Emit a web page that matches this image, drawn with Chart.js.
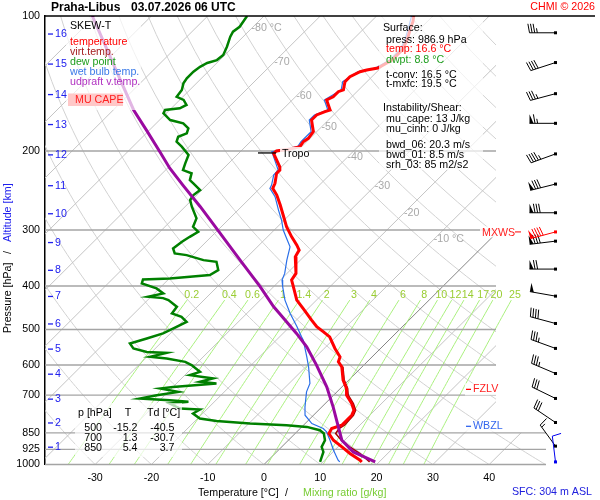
<!DOCTYPE html>
<html>
<head>
<meta charset="utf-8">
<title>Praha-Libus skew-T</title>
<script src="https://cdn.jsdelivr.net/npm/chart.js@4.4.0/dist/chart.umd.min.js"></script>
<style>
  html, body { margin: 0; padding: 0; background: #fff; }
  #wrap { width: 600px; height: 500px; position: relative; }
</style>
</head>
<body>
<div id="wrap"><canvas id="skewT"></canvas></div>
<script>
// sounding: pressure [hPa] / temperature [degC]

var station = "Praha-Libus";
var runTime = "03.07.2026 06 UTC";

var xTicks = [-30, -20, -10, 0, 10, 20, 30, 40];
var pTicks = [100, 200, 300, 400, 500, 600, 700, 850, 925, 1000];

var tempP = [100, 103.1, 106.4, 113.1, 119.0, 125.4, 130.6, 132.0, 133.1, 136.6, 140.1, 146.2, 147.5, 151.4, 153.9, 157.9, 162.0, 163.4, 166.2, 170.6, 181.1, 187.4, 190.7, 195.6, 198.0, 200.0, 202.4, 206.0, 216.9, 220.6, 224.3, 236.1, 242.3, 250.7, 263.9, 277.8, 295.1, 310.7, 324.2, 332.6, 344.2, 375.0, 387.9, 401.4, 430.0, 448.8, 476.5, 493.1, 506.0, 519.3, 551.1, 575.4, 590.3, 605.7, 648.5, 676.9, 700.6, 731.2, 756.8, 776.5, 796.7, 817.6, 831.3, 852.8, 882.9, 913.6, 945.1, 978.2, 986.9];
var tempT = [-53.4, -52.5, -51.8, -50.3, -49.4, -49.4, -50.5, -52.1, -53.0, -53.9, -53.9, -52.7, -53.3, -53.3, -53.9, -52.7, -51.5, -52.1, -53.0, -53.0, -50.6, -50.3, -50.6, -50.3, -51.6, -53.7, -53.8, -52.9, -50.3, -49.7, -49.7, -48.2, -47.7, -45.8, -43.4, -41.1, -38.4, -35.7, -33.3, -32.0, -31.5, -28.4, -28.0, -26.5, -23.5, -20.9, -17.3, -15.2, -13.1, -11.1, -8.1, -5.7, -5.1, -3.6, -1.0, 1.1, 2.3, 4.7, 6.3, 6.8, 6.8, 6.8, 5.6, 6.0, 8.0, 10.7, 13.3, 16.3, 16.9];

var virtP = [605.7, 648.5, 676.9, 700.6, 731.2, 756.8, 776.5, 796.7, 817.6, 831.3, 852.8, 882.9, 913.6, 945.1, 986.9];
var virtT = [-3.4, -0.8, 1.3, 2.6, 5.0, 6.6, 7.1, 7.2, 7.3, 6.9, 7.2, 9.4, 12.1, 15.1, 18.3];

var dwP = [100, 105.7, 108.4, 111.2, 117.1, 122.1, 125.4, 127.3, 129.8, 133.1, 137.7, 141.3, 146.2, 151.4, 153.9, 157.9, 160.6, 162.0, 164.8, 170.6, 173.5, 178.0, 182.6, 185.9, 190.7, 195.6, 204.2, 213.1, 220.6, 224.3, 232.2, 236.1, 244.4, 250.7, 257.2, 266.2, 282.6, 295.1, 302.7, 310.7, 318.7, 329.7, 338.4, 341.3, 350.2, 353.2, 368.6, 378.2, 384.7, 386.7, 394.7, 404.9, 415.5, 422.8, 425.6, 430.0, 445.1, 460.4, 468.5, 480.7, 493.1, 510.3, 523.6, 537.2, 551.1, 561.0, 563.9, 575.4, 580.2, 590.3, 600.4, 621.4, 632.0, 642.8, 654.1, 659.6, 671.4, 676.9, 688.8, 700.6, 712.4, 718.6, 724.9, 731.2, 750.2, 754.1, 769.7, 789.7, 799.5, 810.5, 817.6, 824.5, 838.6, 852.8, 882.9, 913.6, 937.3, 961.7, 986.9];
var dwT = [-83.0, -82.4, -82.7, -82.3, -81.1, -80.3, -80.5, -81.7, -82.3, -82.6, -82.6, -82.3, -81.4, -81.1, -79.3, -77.9, -78.5, -80.8, -80.5, -78.1, -75.2, -73.4, -72.8, -73.7, -73.1, -71.3, -68.6, -67.7, -66.9, -64.8, -63.9, -62.7, -60.3, -60.6, -60.3, -58.8, -55.9, -55.0, -53.2, -53.8, -54.3, -54.7, -53.5, -51.1, -47.2, -44.6, -42.8, -43.4, -49.9, -54.5, -54.0, -50.5, -48.4, -50.5, -47.6, -46.3, -43.6, -43.3, -41.0, -39.2, -40.1, -41.3, -43.3, -45.4, -43.9, -40.9, -37.2, -39.4, -36.2, -32.3, -30.6, -27.9, -29.1, -24.4, -26.1, -22.9, -30.0, -32.0, -28.2, -31.4, -33.8, -28.2, -24.6, -27.6, -24.9, -21.2, -21.7, -19.6, -16.2, -9.8, -3.0, 0.9, 3.8, 5.1, 6.5, 7.1, 8.3, 8.9, 9.5];

var wbP = [100, 106.4, 113.1, 119.0, 125.4, 130.6, 133.1, 140.1, 146.2, 153.9, 162.0, 166.2, 170.6, 181.1, 190.7, 195.6, 200.7, 213.1, 220.6, 226.3, 238.2, 242.3, 252.9, 270.9, 285.0, 300.1, 313.3, 327.1, 338.4, 350.2, 375.0, 387.9, 401.4, 430.0, 460.4, 493.1, 519.3, 528.2, 575.4, 605.7, 659.6, 688.8, 743.9, 776.5, 810.5, 831.3, 845.9, 882.9, 929.2, 978.2, 986.9];
var wbT = [-53.8, -52.2, -50.7, -49.8, -49.8, -50.9, -53.4, -54.3, -53.1, -54.3, -51.9, -53.4, -53.4, -51.0, -51.0, -50.7, -54.4, -51.6, -50.0, -49.9, -48.5, -48.2, -45.8, -42.8, -40.5, -38.4, -36.3, -34.2, -33.3, -32.4, -30.4, -29.7, -28.4, -25.6, -22.3, -18.7, -16.1, -15.2, -11.6, -9.5, -6.3, -5.4, -3.0, -1.5, 1.2, 4.1, 5.3, 7.4, 9.8, 12.4, 13.0];

var parP = [100, 104.7, 125.4, 162.0, 180.4, 201.1, 218.4, 238.8, 266.2, 305.3, 350.2, 401.4, 445.1, 462.0, 510.3, 546.6, 600.4, 671.4, 743.9, 824.5, 882.9, 937.3, 986.9];
var parT = [-110.5, -108.2, -99.2, -86.4, -80.3, -74.2, -69.6, -64.1, -57.3, -49.0, -40.7, -32.4, -26.4, -24.0, -17.6, -13.4, -8.4, -2.7, 2.0, 6.5, 9.5, 13.6, 19.3];

// wind barbs (direction deg, speed kt); last level is the surface
var windP = [109, 127, 149, 173.5, 203, 237, 274.6, 317.7, 366.7, 421.3, 484.8, 551, 626.8, 712.4, 806, 910, 986.9];
var windDir = [270, 252, 255, 270, 250, 256, 270, 263, 270, 280, 285, 290, 293, 296, 304, 324, 353];
var windSpd = [35, 40, 35, 65, 45, 80, 80, 80, 70, 50, 40, 35, 35, 30, 30, 15, 10];
var mxwsP = 303, mxwsDir = 255, mxwsSpd = 90;

// altitude marks [km] and where they sit [hPa]
var altKm = [1, 2, 3, 4, 5, 6, 7, 8, 9, 10, 11, 12, 13, 14, 15, 16];
var altP = [915, 808, 715, 629, 553, 486, 422, 369, 320, 276, 239, 204, 174.6, 149.7, 128, 109.7];

// special levels
var tropoP = 202, fzlvP = 680, wbzlP = 822;

// mixing ratio lines [g/kg] and isotherm labels
var mixW = [0.2, 0.4, 0.6, 1, 1.4, 2, 3, 4, 6, 8, 10, 12, 14, 17, 20, 25];
var isoLabelT = [-80, -70, -60, -50, -40, -30, -20, -10];
var isoLabelP = [106.6, 126.6, 150.8, 176.8, 206.3, 239.4, 275.0, 314.9];

// table and surface info
var tabP = [500, 700, 850], tabT = [-15.2, 1.3, 5.4], tabTd = [-40.5, -30.7, 3.7];
var sfcP = 986.9, sfcT = 16.6, sfcTd = 8.8, tConv = 16.5, tMxfc = 19.5;
var muCape = 13, muCinh = 0, bwd06 = 20.3, bwd01 = 8.5, srh03 = 85, sfcElev = 304;

var SKEW = 80;
function skewX(t, p) { return t + SKEW * Math.log10(1000 / p); }

var FONT = "'Liberation Sans', Arial, sans-serif";
var F11 = "10.67px " + FONT;
Chart.defaults.font.family = FONT;
Chart.defaults.font.size = 10.67;

function txt(ctx, s, x, y, color, align, font) {
    ctx.fillStyle = color;
    ctx.textAlign = align || 'left';
    ctx.textBaseline = 'middle';
    ctx.font = font || F11;
    ctx.fillText(s, x, y);
}

function dewFromMix(w, p) {
    var e = w * p / (622 + w);
    var l = Math.log(e / 6.112);
    return 243.5 * l / (17.67 - l);
}

function drawBarb(ctx, x0, y0, dir, spd, color) {
    var L = 26, F = 9, G = 2.6;
    var r = dir * Math.PI / 180;
    var sx = Math.sin(r), sy = -Math.cos(r);
    var fx = -sy, fy = sx;
    ctx.strokeStyle = color;
    ctx.fillStyle = color;
    ctx.lineWidth = 1;
    ctx.beginPath();
    ctx.moveTo(x0, y0);
    ctx.lineTo(x0 + sx * L, y0 + sy * L);
    ctx.stroke();
    var pos = L, s = spd;
    while (s >= 50) {
        var bx = x0 + sx * pos, by = y0 + sy * pos;
        ctx.beginPath();
        ctx.moveTo(bx, by);
        ctx.lineTo(bx + fx * F, by + fy * F);
        ctx.lineTo(x0 + sx * (pos - 4), y0 + sy * (pos - 4));
        ctx.closePath();
        ctx.fill();
        pos -= 5.5;
        s -= 50;
    }
    while (s >= 5) {
        var len = s >= 10 ? F : F * 0.5;
        var qx = x0 + sx * pos, qy = y0 + sy * pos;
        ctx.beginPath();
        ctx.moveTo(qx, qy);
        ctx.lineTo(qx + fx * len + sx * len * 0.18, qy + fy * len + sy * len * 0.18);
        ctx.stroke();
        pos -= G;
        s -= (s >= 10 ? 10 : 5);
    }
    ctx.fillRect(x0 - 1.5, y0 - 1.5, 3, 3);
}

var gridPlugin = {
    id: 'skewGrid',
    beforeDatasetsDraw: function (chart) {
        var ctx = chart.ctx, a = chart.chartArea;
        var xs = chart.scales.x, ys = chart.scales.y;
        function X(t, p) { return xs.getPixelForValue(skewX(t, p)); }
        function Y(p) { return ys.getPixelForValue(p); }
        var y850 = Y(850);
        var p, t, k;

        ctx.save();
        ctx.beginPath();
        ctx.rect(a.left, a.top, a.right - a.left, a.bottom - a.top);
        ctx.rect(a.right, y850, 50, a.bottom - y850);
        ctx.clip();
        ctx.lineWidth = 1;

        // dry adiabats
        ctx.strokeStyle = '#d2d2d2';
        for (var th = -40; th <= 200; th += 10) {
            ctx.beginPath();
            for (p = 1000; p >= 100; p -= 10) {
                t = (th + 273.15) * Math.pow(p / 1000, 0.2857) - 273.15;
                if (p === 1000) ctx.moveTo(X(t, p), Y(p)); else ctx.lineTo(X(t, p), Y(p));
            }
            ctx.stroke();
        }
        // isotherms
        ctx.strokeStyle = '#c4c4c4';
        for (t = -120; t <= 40; t += 10) {
            if (t === 0) continue;
            ctx.beginPath();
            ctx.moveTo(X(t, 1000), Y(1000));
            ctx.lineTo(X(t, 100), Y(100));
            ctx.stroke();
        }
        ctx.restore();

        // 0 degC isotherm
        ctx.save();
        ctx.beginPath();
        ctx.rect(a.left, a.top, a.right - a.left, a.bottom - a.top);
        ctx.clip();
        ctx.strokeStyle = '#666';
        ctx.lineWidth = 0.8;
        ctx.beginPath();
        ctx.moveTo(X(0, 1000), Y(1000));
        ctx.lineTo(X(0, 100), Y(100));
        ctx.stroke();
        ctx.restore();

        // mixing ratio lines
        ctx.save();
        ctx.beginPath();
        ctx.rect(a.left, a.top, a.right + 40 - a.left, a.bottom - a.top);
        ctx.clip();
        ctx.strokeStyle = '#aaf07e';
        ctx.lineWidth = 1;
        for (k = 0; k < mixW.length; k++) {
            ctx.beginPath();
            for (p = 1000; p >= 430; p -= 10) {
                t = dewFromMix(mixW[k], p);
                if (p === 1000) ctx.moveTo(X(t, p), Y(p)); else ctx.lineTo(X(t, p), Y(p));
            }
            ctx.stroke();
        }
        ctx.restore();
        for (k = 0; k < mixW.length; k++) {
            txt(ctx, String(mixW[k]), X(dewFromMix(mixW[k], 416), 416), Y(418), '#9acd32', 'center');
        }

        // isobars
        ctx.save();
        ctx.strokeStyle = '#a4a4a4';
        ctx.lineWidth = 1.3;
        for (k = 0; k < pTicks.length; k++) {
            if (pTicks[k] === 100) continue;
            var yy = Y(pTicks[k]);
            ctx.beginPath();
            ctx.moveTo(a.left, yy);
            ctx.lineTo(pTicks[k] >= 850 ? a.right + 50 : a.right, yy);
            ctx.stroke();
        }
        ctx.restore();

        // isotherm labels
        for (k = 0; k < isoLabelT.length; k++) {
            var lab = String(isoLabelT[k]);
            if (k === 0 || k === isoLabelT.length - 1) lab += ' \u00B0C';
            txt(ctx, lab, X(isoLabelT[k], isoLabelP[k]), Y(isoLabelP[k]), '#a8a8a8', 'left');
        }
    }
};

var overlayPlugin = {
    id: 'overlay',
    afterDatasetsDraw: function (chart) {
        var ctx = chart.ctx, a = chart.chartArea;
        var ys = chart.scales.y;
        function Y(p) { return ys.getPixelForValue(p); }
        var k;
        ctx.save();

        // translucent info boxes
        ctx.fillStyle = 'rgba(255,255,255,0.7)';
        ctx.fillRect(66, a.top + 1, 75, 93);
        ctx.fillRect(379, a.top + 1, 104, 153);
        ctx.fillRect(75, 403, 107, 54);
        ctx.fillStyle = 'rgba(255,255,255,0.85)';
        ctx.fillRect(280, Y(tropoP) - 6, 28, 13);
        ctx.fillRect(465, Y(fzlvP) - 6, 43, 12);
        ctx.fillRect(465, Y(wbzlP) - 5.5, 42, 11);
        ctx.fillRect(480, Y(mxwsP) - 5.5, 34, 11);

        // legend
        txt(ctx, 'SKEW-T', 70, 26, '#000');
        txt(ctx, 'temperature', 70, 42.3, '#ff0000');
        txt(ctx, 'virt.temp.', 70, 52.3, '#a52020');
        txt(ctx, 'dew point', 70, 62, '#1e9e1e');
        txt(ctx, 'wet bulb temp.', 70, 72, '#3a7ae8');
        txt(ctx, 'udpraft v.temp.', 70, 82, '#b030c0');
        ctx.fillStyle = '#ffc8c8';
        ctx.fillRect(68, 93.5, 55, 12.5);
        txt(ctx, 'MU CAPE', 75, 100.5, '#ff2020');

        // surface / instability box
        txt(ctx, 'Surface:', 383, 27.7, '#000');
        txt(ctx, 'press: ' + sfcP.toFixed(1) + ' hPa', 386, 40, '#000');
        txt(ctx, 'temp: ' + sfcT.toFixed(1) + ' \u00B0C', 386, 49.5, '#ff0000');
        txt(ctx, 'dwpt: ' + sfcTd.toFixed(1) + ' \u00B0C', 386, 60, '#1e9e1e');
        txt(ctx, 't-conv: ' + tConv.toFixed(1) + ' \u00B0C', 386, 75, '#000');
        txt(ctx, 't-mxfc: ' + tMxfc.toFixed(1) + ' \u00B0C', 386, 84.5, '#000');
        txt(ctx, 'Instability/Shear:', 383, 108.3, '#000');
        txt(ctx, 'mu_cape: ' + muCape + ' J/kg', 386, 119.5, '#000');
        txt(ctx, 'mu_cinh: ' + muCinh + ' J/kg', 386, 129.5, '#000');
        txt(ctx, 'bwd_06: ' + bwd06.toFixed(1) + ' m/s', 386, 145, '#000');
        txt(ctx, 'bwd_01: ' + bwd01.toFixed(1) + ' m/s', 386, 155, '#000');
        txt(ctx, 'srh_03: ' + srh03 + ' m2/s2', 386, 165, '#000');

        // standard level table
        txt(ctx, 'p [hPa]', 78, 413.3, '#000');
        txt(ctx, 'T', 128, 413.3, '#000', 'center');
        txt(ctx, 'Td [\u00B0C]', 147, 413.3, '#000');
        for (k = 0; k < tabP.length; k++) {
            var ry = 428.3 + k * 10;
            txt(ctx, String(tabP[k]), 102, ry, '#000', 'right');
            txt(ctx, tabT[k].toFixed(1), 137.5, ry, '#000', 'right');
            txt(ctx, tabTd[k].toFixed(1), 174.5, ry, '#000', 'right');
        }

        // tropopause, freezing and wet bulb zero levels
        ctx.strokeStyle = '#000';
        ctx.lineWidth = 1.3;
        ctx.beginPath();
        ctx.moveTo(258, Y(tropoP));
        ctx.lineTo(276, Y(tropoP));
        ctx.stroke();
        txt(ctx, 'Tropo', 282, Y(tropoP) + 1.5, '#000');

        ctx.strokeStyle = '#ff0000';
        ctx.beginPath();
        ctx.moveTo(466, Y(fzlvP));
        ctx.lineTo(471, Y(fzlvP));
        ctx.stroke();
        txt(ctx, 'FZLV', 473, Y(fzlvP), '#ff2020');

        ctx.strokeStyle = '#3366ee';
        ctx.beginPath();
        ctx.moveTo(466, Y(wbzlP));
        ctx.lineTo(471, Y(wbzlP));
        ctx.stroke();
        txt(ctx, 'WBZL', 473, Y(wbzlP), '#3366ee');

        // altitude marks
        ctx.strokeStyle = '#2020ee';
        ctx.lineWidth = 1.3;
        for (k = 0; k < altKm.length; k++) {
            var ay = Y(altP[k]);
            ctx.beginPath();
            ctx.moveTo(48, ay);
            ctx.lineTo(53, ay);
            ctx.stroke();
            txt(ctx, String(altKm[k]), 55, ay, '#2020ee');
        }

        // wind barbs
        var bx = a.right + 59.5;
        for (k = 0; k < windP.length; k++) {
            var col = (k === windP.length - 1) ? '#0000ee' : '#000';
            drawBarb(ctx, bx, Y(windP[k]), windDir[k], windSpd[k], col);
        }
        txt(ctx, 'MXWS', 482, Y(mxwsP) + 1, '#ff2020');
        ctx.strokeStyle = '#ff0000';
        ctx.lineWidth = 1;
        ctx.beginPath();
        ctx.moveTo(515, Y(mxwsP));
        ctx.lineTo(521, Y(mxwsP));
        ctx.stroke();
        drawBarb(ctx, bx, Y(mxwsP), mxwsDir, mxwsSpd, '#ff0000');

        ctx.restore();
    },
    afterDraw: function (chart) {
        var ctx = chart.ctx, a = chart.chartArea;
        ctx.save();
        // frame top line
        ctx.strokeStyle = '#000';
        ctx.lineWidth = 1.3;
        ctx.beginPath();
        ctx.moveTo(a.left, a.top);
        ctx.lineTo(595, a.top);
        ctx.stroke();

        txt(ctx, station, 51, 7.5, '#000', 'left', 'bold 12px ' + FONT);
        txt(ctx, runTime, 131, 7.5, '#000', 'left', 'bold 12px ' + FONT);
        txt(ctx, 'CHMI \u00A9 2026', 595, 7, '#ff0000', 'right');

        txt(ctx, 'Temperature [\u00B0C]', 198, 493.3, '#000');
        txt(ctx, '/', 285, 493.3, '#000');
        txt(ctx, 'Mixing ratio [g/kg]', 303, 493.3, '#77cc33');
        txt(ctx, 'SFC: ' + sfcElev + ' m ASL', 512, 492.3, '#2020dd');

        ctx.translate(8, 333);
        ctx.rotate(-Math.PI / 2);
        txt(ctx, 'Pressure [hPa]', 0, 0, '#000');
        txt(ctx, '/', 79, 0, '#000');
        txt(ctx, 'Altitude [km]', 91, 0, '#2020ee');
        ctx.restore();
    }
};

function profile(label, ps, ts, color, width, order) {
    var pts = [];
    for (var i = 0; i < ps.length; i++) pts.push({ x: skewX(ts[i], ps[i]), y: ps[i] });
    return {
        label: label,
        data: pts,
        showLine: true,
        borderColor: color,
        backgroundColor: color,
        borderWidth: width,
        pointRadius: 0,
        tension: 0,
        fill: false,
        order: order
    };
}

var xMin = (45 - 264) / 5.63;
var xMax = (496 - 264) / 5.63;

var myChart = new Chart(document.getElementById('skewT'), {
    type: 'scatter',
    data: {
        datasets: [
            profile('udpraft v.temp.', parP, parT, '#9a0aa0', 3, 0),
            profile('temperature', tempP, tempT, '#ff0000', 3, 1),
            profile('virt.temp.', virtP, virtT, '#a00000', 1.5, 2),
            profile('dew point', dwP, dwT, '#008000', 2.5, 3),
            profile('wet bulb temp.', wbP, wbT, '#2a6fe8', 1.2, 4)
        ]
    },
    options: {
        responsive: true,
        maintainAspectRatio: false,
        animation: false,
        events: [],
        layout: { padding: { left: 0, top: 16, right: 104, bottom: 0 } },
        plugins: { legend: { display: false }, tooltip: { enabled: false } },
        scales: {
            x: {
                type: 'linear',
                min: xMin,
                max: xMax,
                afterFit: function (s) { s.height = 35.5; },
                afterBuildTicks: function (s) { s.ticks = xTicks.map(function (v) { return { value: v }; }); },
                grid: { display: false, drawTicks: false },
                border: { display: false },
                ticks: { color: '#000', padding: 7, autoSkip: false, maxRotation: 0, font: { size: 10.67 },
                         callback: function (v) { return String(v); } }
            },
            y: {
                type: 'logarithmic',
                reverse: true,
                min: 100,
                max: 1000,
                afterFit: function (s) { s.width = 45; },
                afterBuildTicks: function (s) { s.ticks = pTicks.map(function (v) { return { value: v }; }); },
                grid: { display: false, drawTicks: false },
                border: { display: true, color: '#000', width: 1.5 },
                ticks: { color: '#000', padding: 5, autoSkip: false, font: { size: 10.67 },
                         callback: function (v) { return String(v); } }
            }
        }
    },
    plugins: [gridPlugin, overlayPlugin]
});
</script>
</body>
</html>
